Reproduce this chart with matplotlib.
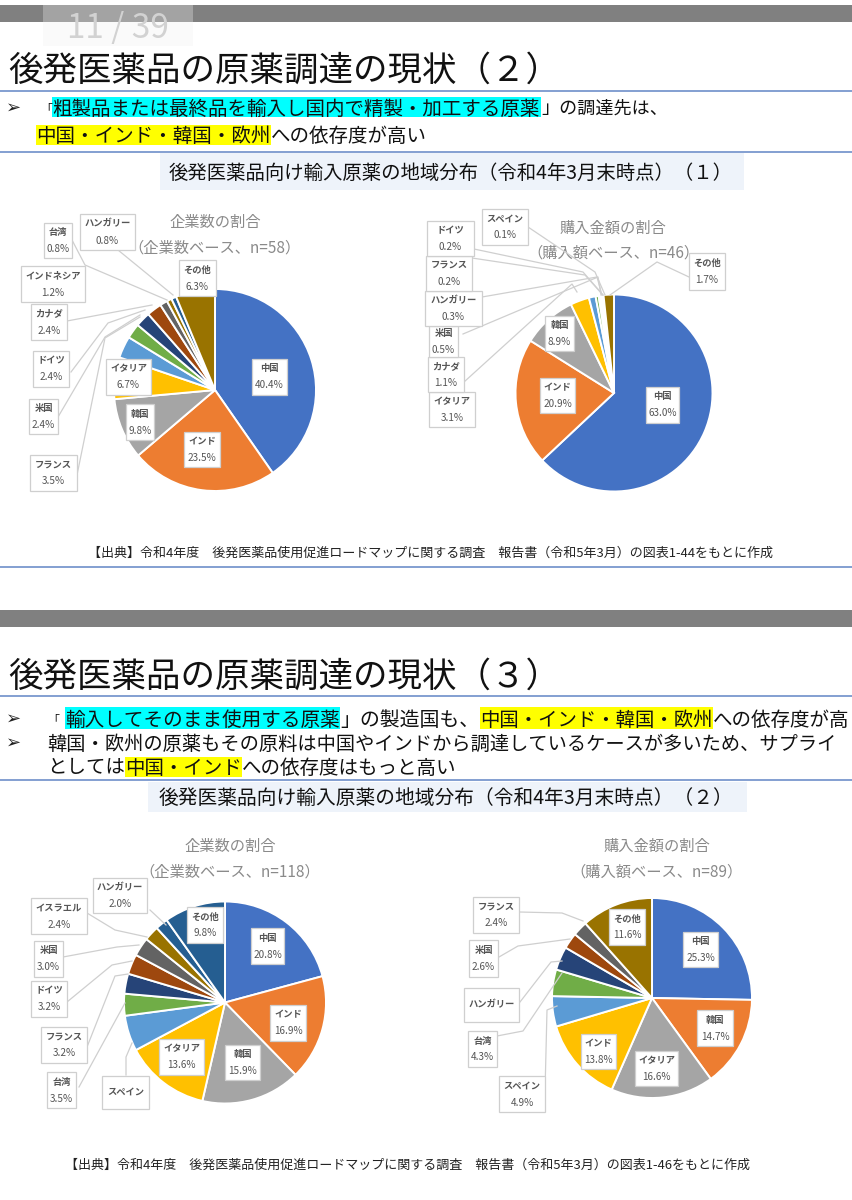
import matplotlib
matplotlib.use("Agg")
import matplotlib.pyplot as plt
from matplotlib.patches import Rectangle

plt.rcParams['font.family'] = ['Noto Sans CJK JP', 'DejaVu Sans']

W, H = 853, 1200

# ---------- data ----------
PAL = ['#4472C4', '#ED7D31', '#A5A5A5', '#FFC000', '#5B9BD5', '#70AD47',
       '#264478', '#9E480E', '#636363', '#997300', '#255E91']

names1 = ['中国', 'インド', '韓国', 'イタリア', 'フランス', '米国', 'ドイツ', 'カナダ',
          'インドネシア', '台湾', 'ハンガリー', 'その他']
values1 = [40.4, 23.5, 9.8, 6.7, 3.5, 2.4, 2.4, 2.4, 1.2, 0.8, 0.8, 6.3]
shown1 = [True] * 12
colors1 = PAL + ['#997300']

names2 = ['中国', 'インド', '韓国', 'イタリア', 'カナダ', '米国', 'ハンガリー', 'フランス',
          'ドイツ', 'スペイン', 'その他']
values2 = [63.0, 20.9, 8.9, 3.1, 1.1, 0.5, 0.3, 0.2, 0.2, 0.1, 1.7]
shown2 = [True] * 11
colors2 = PAL[:10] + ['#997300']

names3 = ['中国', 'インド', '韓国', 'イタリア', 'スペイン', '台湾', 'フランス', 'ドイツ',
          '米国', 'イスラエル', 'ハンガリー', 'その他']
values3 = [20.8, 16.9, 15.9, 13.6, 5.7, 3.5, 3.2, 3.2, 3.0, 2.4, 2.0, 9.8]
shown3 = [True, True, True, True, False] + [True] * 7
colors3 = PAL + ['#255E91']

names4 = ['中国', '韓国', 'イタリア', 'インド', 'スペイン', '台湾', 'ハンガリー', '米国',
          'フランス', 'その他']
values4 = [25.3, 14.7, 16.6, 13.8, 4.9, 4.3, 3.8, 2.6, 2.4, 11.6]
shown4 = [True] * 6 + [False] + [True] * 3
colors4 = PAL[:9] + ['#997300']

# ---------- layout (pixels) ----------
geom1 = (215, 390, 101)
geom2 = (614, 393, 98.5)
geom3 = (225, 1002.5, 101)
geom4 = (652, 998, 100)

boxes1 = {'中国': (252, 359, 287, 395), 'インド': (184, 432, 220, 467), '韓国': (126, 404, 154, 440),
          'イタリア': (106, 359, 151, 395), 'フランス': (30, 455, 77, 491), '米国': (29, 399, 58, 434),
          'ドイツ': (33, 351, 69, 387), 'カナダ': (31, 304, 67, 340), 'インドネシア': (21, 266, 85, 302),
          '台湾': (44, 223, 72, 258), 'ハンガリー': (80, 214, 135, 250), 'その他': (179, 260, 216, 296)}
leaders1 = [[(118, 250), (173, 295)], [(72, 240), (85, 265), (167, 300)],
            [(67, 321), (152, 305)], [(71, 372), (108, 323), (145, 310)],
            [(58, 417), (105, 337), (140, 315)], [(77, 475), (105, 338), (140, 317)]]

boxes2 = {'中国': (646, 387, 679, 423), 'インド': (540, 378, 575, 413), '韓国': (545, 316, 574, 351),
          'イタリア': (429, 392, 475, 427), 'カナダ': (428, 357, 464, 392), '米国': (429, 326, 458, 357),
          'ハンガリー': (425, 291, 482, 326), 'フランス': (426, 256, 472, 291), 'ドイツ': (427, 221, 474, 256),
          'スペイン': (482, 209, 528, 245), 'その他': (689, 253, 725, 290)}
leaders2 = [[(528, 227), (595, 272), (605, 295)], [(474, 249), (583, 272), (603, 295)],
            [(472, 258), (585, 275), (603, 295)], [(482, 297), (597, 277), (602, 295)],
            [(463, 334), (598, 277), (601, 295)], [(464, 382), (572, 284), (577, 292)],
            [(689, 277), (657, 262), (610, 295)]]

boxes3 = {'中国': (251, 928, 284, 964), 'インド': (270, 1005, 306, 1041), '韓国': (225, 1045, 260, 1080),
          'イタリア': (159, 1039, 204, 1075), 'スペイン': (102, 1076, 149, 1109), '台湾': (47, 1072, 76, 1108),
          'フランス': (41, 1027, 87, 1063), 'ドイツ': (31, 981, 67, 1017), '米国': (34, 941, 63, 977),
          'イスラエル': (31, 898, 87, 934), 'ハンガリー': (93, 878, 147, 913), 'その他': (187, 907, 223, 943)}
leaders3 = [[(150, 910), (166, 925)], [(87, 913), (115, 930), (147, 937)],
            [(63, 957), (117, 947), (139, 945)], [(67, 1002), (112, 965), (132, 961)],
            [(87, 1047), (115, 976), (128, 974)], [(79, 1087), (125, 1003)],
            [(126, 1075), (126, 1057), (132, 1043)]]

boxes4 = {'中国': (683, 932, 718, 967), '韓国': (697, 1010, 733, 1046), 'イタリア': (635, 1051, 678, 1086),
          'インド': (581, 1034, 616, 1069), 'スペイン': (499, 1076, 545, 1112), '台湾': (468, 1031, 497, 1067),
          'ハンガリー': (464, 988, 519, 1022), '米国': (469, 940, 498, 977), 'フランス': (473, 897, 519, 933),
          'その他': (609, 909, 645, 945)}
leaders4 = [[(519, 912), (562, 913), (583, 921)], [(499, 957), (518, 946), (570, 939)],
            [(520, 1002), (551, 962), (562, 961)], [(497, 1036), (523, 1031), (562, 973)],
            [(545, 1092), (547, 1010), (557, 1006)]]

fig = plt.figure(figsize=(W / 100, H / 100), dpi=100, facecolor='white')


def draw_pie(geom, values, colors):
    cx, cy, r = geom
    a = fig.add_axes([(cx - r) / W, 1 - (cy + r) / H, 2 * r / W, 2 * r / H])
    a.pie(values, colors=colors, startangle=90, counterclock=False, radius=1,
          wedgeprops=dict(edgecolor='white', linewidth=1.4, clip_on=False), normalize=True)
    a.set_xlim(-1, 1)
    a.set_ylim(-1, 1)
    a.axis('off')


draw_pie(geom1, values1, colors1)
draw_pie(geom2, values2, colors2)
draw_pie(geom3, values3, colors3)
draw_pie(geom4, values4, colors4)

ov = fig.add_axes([0, 0, 1, 1], facecolor='none')
ov.set_xlim(0, W)
ov.set_ylim(H, 0)
ov.axis('off')
rend = fig.canvas.get_renderer()


def fit(x, y, s, width, size=14, color='#111111', **kw):
    t = ov.text(x, y + 1, s, fontsize=size, color=color, va='center', ha='left', clip_on=False, **kw)
    w = t.get_window_extent(rend).width
    t.set_fontsize(size * width / w)
    return t


def rect(x0, y0, x1, y1, fc, z=1, **kw):
    ov.add_patch(Rectangle((x0, y0), x1 - x0, y1 - y0, facecolor=fc, edgecolor='none', zorder=z, **kw))


def hline(y):
    ov.plot([0, W], [y, y], color='#6E8FC9', lw=1.2, zorder=2)


def labels(names, values, shown, boxes, leaders):
    for pts in leaders:
        ov.plot([p[0] for p in pts], [p[1] for p in pts], color='#CFCFCF', lw=0.9, zorder=3)
    for n, v, sh in zip(names, values, shown):
        x0, y0, x1, y1 = boxes[n]
        ov.add_patch(Rectangle((x0, y0), x1 - x0, y1 - y0, facecolor='white',
                               edgecolor='#CFCFCF', lw=0.9, zorder=4))
        xm = (x0 + x1) / 2
        ym = (y0 + y1) / 2
        if sh:
            ov.text(xm, ym - 8, n, fontsize=6.7, fontweight='bold', color='#555555',
                    ha='center', va='center', zorder=5)
            ov.text(xm, ym + 8.5, f'{v:.1f}%', fontsize=7.2, color='#555555',
                    ha='center', va='center', zorder=5)
        else:
            ov.text(xm, ym, n, fontsize=6.7, fontweight='bold', color='#555555',
                    ha='center', va='center', zorder=5)


def heads(x, y1, y2, s1, s2):
    for y, s in ((y1 + 1, s1), (y2 + 1, s2)):
        ov.text(x, y, s, fontsize=11, color='#8A8A8A', ha='center', va='center', zorder=2)


# ---------- slide 1 ----------
rect(0, 5, W, 22, '#808080')
rect(43, 5, 193, 22, '#A3A3A3', z=1.5)
rect(43, 22, 193, 46, '#FAFAFA', z=1.5)
ov.text(118, 28, '11 / 39', fontsize=24, color='#D2D2D2', ha='center', va='center', zorder=2)
fit(8, 70, '後発医薬品の原薬調達の現状（２）', 552, 25)
hline(91)
ov.text(14, 108, '➢', fontsize=13, color='#222222', ha='center', va='center')
rect(52, 97, 541, 117, '#00FFFF')
fit(40, 108, '「', 12, 14)
fit(52, 108, '粗製品または最終品を輸入し国内で精製・加工する原薬', 489, 14)
fit(541, 108, '」の調達先は、', 127, 14)
rect(36, 125, 271, 145, '#FFFF00')
fit(36, 135, '中国・インド・韓国・欧州', 235, 14)
fit(271, 135, 'への依存度が高い', 156, 14)
hline(152)
rect(160, 153, 744, 190, '#EEF3FA')
fit(169, 172, '後発医薬品向け輸入原薬の地域分布（令和4年3月末時点）（１）', 562, 13)
heads(215, 221, 247, '企業数の割合', '（企業数ベース、n=58）')
heads(613, 227, 252, '購入金額の割合', '（購入額ベース、n=46）')
labels(names1, values1, shown1, boxes1, leaders1)
labels(names2, values2, shown2, boxes2, leaders2)
fit(88, 552, '【出典】令和4年度　後発医薬品使用促進ロードマップに関する調査　報告書（令和5年3月）の図表1-44をもとに作成',
    688, 8, color='#222222')
hline(567)

# ---------- slide 2 ----------
rect(0, 610, W, 627, '#808080')
fit(8, 676, '後発医薬品の原薬調達の現状（３）', 552, 25)
hline(696)
for y in (719, 743):
    ov.text(14, y, '➢', fontsize=13, color='#222222', ha='center', va='center')
rect(65, 707, 340, 729, '#00FFFF')
fit(47, 719, '「', 12, 14)
fit(65, 719, '輸入してそのまま使用する原薬', 275, 14)
fit(340, 719, '」の製造国も、', 140, 14)
rect(480, 707, 713, 729, '#FFFF00')
fit(480, 719, '中国・インド・韓国・欧州', 233, 14)
fit(713, 719, 'への依存度が高', 137, 14)
fit(47, 743, '韓国・欧州の原薬もその原料は中国やインドから調達しているケースが多いため、サプライ', 790, 14)
rect(125, 757, 242, 777, '#FFFF00')
fit(47, 767, 'としては', 78, 14)
fit(125, 767, '中国・インド', 117, 14)
fit(242, 767, 'への依存度はもっと高い', 215, 14)
hline(780)
rect(148, 782, 747, 812, '#EEF3FA')
fit(159, 797, '後発医薬品向け輸入原薬の地域分布（令和4年3月末時点）（２）', 572, 13)
heads(230, 845, 871, '企業数の割合', '（企業数ベース、n=118）')
heads(657, 845, 871, '購入金額の割合', '（購入額ベース、n=89）')
labels(names3, values3, shown3, boxes3, leaders3)
labels(names4, values4, shown4, boxes4, leaders4)
fit(65, 1164, '【出典】令和4年度　後発医薬品使用促進ロードマップに関する調査　報告書（令和5年3月）の図表1-46をもとに作成',
    688, 8, color='#222222')

fig.savefig('out.png', dpi=100, facecolor='white')
